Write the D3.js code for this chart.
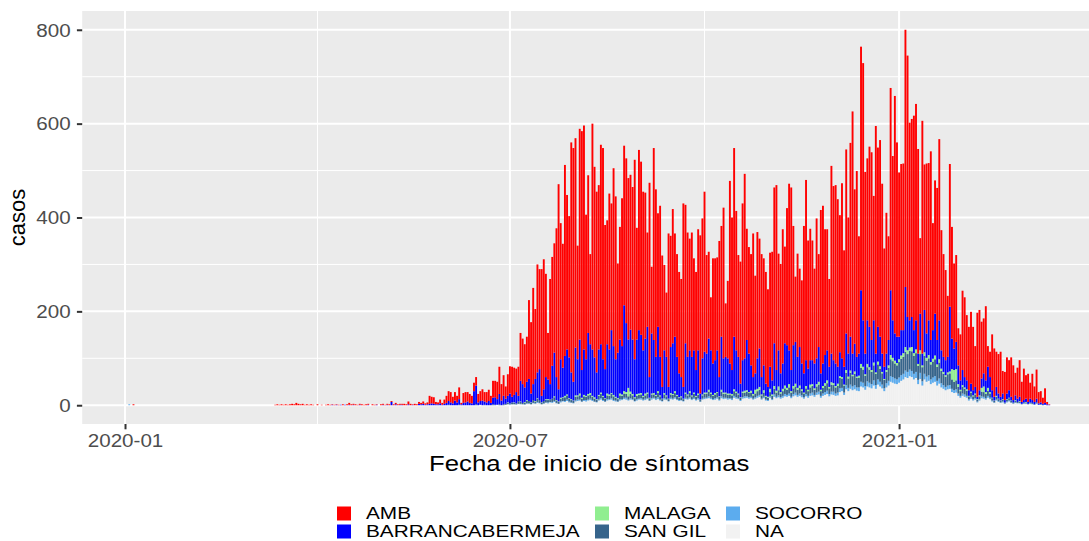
<!DOCTYPE html>
<html>
<head>
<meta charset="utf-8">
<title>Casos por fecha de inicio de síntomas</title>
<script src="https://cdn.jsdelivr.net/npm/d3@7"></script>
<style>
  body { margin: 0; background: #fff; }
  svg text { font-family: "Liberation Sans", Arial, sans-serif; }
</style>
</head>
<body>
<svg id="chart"></svg>
<script>
// series, in legend order (first one is drawn on top of the stack)
const series = ["AMB", "BARRANCABERMEJA", "MALAGA", "SAN GIL", "SOCORRO", "NA"];
const colores = ["#FF0000", "#0000FF", "#90EE90", "#36648B", "#5CACEE", "#F2F2F2"];

// daily cases, AMB and BARRANCABERMEJA start 2020-03-10
const inicioPrincipal = "2020-03-10";
const amb = [
  0,0,1,2,1,2,1,2,1,2, 3,2,5,3,2,3,1,2,1,2, 1,0,2,0,1,0,1,2,1,1, 1,1,1,0,2,0,2,4,2,2,
  2,1,2,2,1,2,2,0,2,1, 1,0,2,2,1,2,2,2,2,3, 2,2,2,3,2,6,3,1,3,2, 4,
  3,5,3,4,17,14,14,5,4,8, 4,9,15,21,22,14,18,14,25,3, 21,22,20,19,16,18,18,18,21,24,
  20,22,24,15,36,35,37,58,35,44,
  26,46,58,64,58,50,62,102,97,92,96,
  168,152,205,149,230,213,270,277,220,99, 224,232,233,317,437,290,264,407,329,301,
  490,498,446,242,449,509,477,308,336,192, 481,406,385,350,425,450,307,264,332,270,
  379,347,190,240,315,340,351,344,330,325, 425,238,384,
  369,338,311,201,414,142,409,357,242,322, 280,182,137,327,237,286,220,219,216,209,
  391,295,265,238,265,196,209,258,337,298, 341,210,185,113,224,217,198,290,236,321,
  114,165,389,325,402,297,217,260,334,393, 237,227,
  237,306,208,269,234,262,228,238,208,243, 274,332,394,206,233,286,206,292,355,389,
  254,139,220,167,177,314,384,273,280,255, 202,298,198,348,336,268,258,187,400,371,
  380,357,
  292,373,248,392,290,413,516,329,396,250, 519,548,387,345,384,400,265,485,382,419,
  362,252,300,221,431,350,506,414,350,354, 355,548,557,421,422,457,461,436,161,496,
  310,362,335,402,228,284,324,386,256,219, 192,130,304,
  238,181,185,79,98,169,170,139,135,153, 135,87,179,171,121,117,158,44,54,119,
  103,75,84,96,48,60,77,64,84,74, 48,66,78,43,67,50,60,34,56,33, 62,24,24,13,31,5,1
];
const barranca = [
  0,0,0,0,0,0,0,0,0,0, 0,0,0,0,0,0,0,0,0,0, 0,0,0,0,0,0,0,0,0,1, 0,1,0,1,0,1,0,1,0,1,
  0,0,1,0,0,0,1,0,0,0, 1,0,0,1,0,1,0,7,0,2, 0,1,1,0,0,2,0,1,0,0, 3,
  2,3,1,2,3,4,3,2,2,4, 1,3,5,8,6,4,10,6,12,2, 5,6,8,5,4,30,40,6,8,10, 7,6,9,5,14,16,12,22,10,18,
  11,14,21,12,16,24,12,44,40,31,39,
  47,19,34,47,55,66,14,25,47,42, 33,70,93,49,26,82,63,85,96,87, 57,40,102,77,115,59,97,78,130,104,
  99,85,57,97,103,78,62,105,96,134, 104,80,97,115,103,183,147,103,132,116, 81,116,135,
  124,97,117,140,44,128,113,81,137,82, 25,91,82,25,98,108,116,81,51,41, 25,105,80,87,82,90,55,92,13,77,
  87,83,109,90,67,70,89,41,113,73, 76,75,64,51,112,88,78,29,67,69, 107,82,
  54,36,35,65,82,37,53,26,21,47, 30,91,44,77,40,54,90,91,72,45, 87,89,66,82,55,41,55,45,52,51,
  53,55,74,35,48,60,64,43,61,49, 48,36,
  51,40,38,78,49,72,45,59,42,47, 157,99,44,93,86,64,90,40,74,63, 39,26,35,54,138,80,58,56,48,54,
  49,128,71,58,64,49,62,22,78,25, 90,52,74,47,61,89,52,83,39,32, 32,33,138,
  65,46,58,40,20,32,22,19,12,17, 11,14,5,11,20,28,25,45,32,16, 8,19,11,8,12,5,12,16,8,5,
  10,7,9,4,5,7,4,8,6,5, 8,3,4,2,4,2,1
];

// the smaller municipalities start 2020-05-20
const inicioOtros = "2020-05-20";
const malaga = [
  0,0,0,0,0,0,0,0,0,0, 0,0,0,0,0,0,0,0,0,0, 0,0,0,0,0,0,0,0,0,0, 0,0,0,0,0,0,0,0,0,0,
  0,1,0,0,1,0,0,1,0,1,1,
  0,1,0,1,1,0,1,0,1,2, 1,0,2,1,1,2,1,3,2,1, 2,1,3,2,4,2,3,2,3,4, 2,3,1,2,3,2,1,4,3,2,
  3,2,2,4,3,5,4,18,5,3, 2,4,3,
  3,2,4,3,1,2,3,2,4,2, 1,3,2,1,3,2,4,2,1,2, 1,3,2,4,2,3,2,3,1,2, 3,2,4,3,2,3,2,1,4,3,
  2,3,2,3,4,3,2,1,3,4, 3,2,
  4,3,8,5,6,2,5,2,2,7, 3,6,4,8,3,5,6,4,7,3, 5,6,4,5,3,2,5,3,6,4, 3,5,6,3,4,5,6,3,5,4, 3,5,
  4,3,2,6,4,5,3,5,3,4, 8,6,3,7,5,4,6,3,6,5, 3,2,4,5,9,7,6,5,6,7, 8,10,8,7,9,6,8,4,8,4,
  8,6,7,5,6,8,5,7,5,4, 3,4,4,
  22,25,24,6,3,4,3,3,1,2, 2,2,1,2,8,12,4,6,3,1, 1,2,1,1,1,0,1,1,1,0, 1,0,1,0,0,1,0,0,0,0,
  0,0,0,0,0,0,0
];
const sanGil = [
  0,0,0,0,0,0,0,0,0,0, 0,0,0,1,0,0,0,0,1,0, 0,0,0,0,0,0,2,0,0,0, 1,0,0,0,2,1,0,2,0,2,
  2,3,2,4,3,2,5,4,3,4,6,
  5,3,6,4,7,6,3,5,6,5, 4,7,8,5,4,6,7,8,9,6, 5,4,8,7,9,6,8,7,9,8, 7,6,5,8,9,7,6,8,7,9,
  8,6,5,8,7,9,8,7,9,8, 6,7,8,
  8,6,7,9,5,8,7,6,9,7, 4,8,6,4,7,8,9,7,5,6, 4,8,7,9,6,8,6,7,3,7, 8,9,10,8,7,8,9,6,10,8,
  9,7,8,7,10,9,8,5,9,8, 10,9,
  9,7,8,10,11,7,9,6,5,9, 7,12,9,11,8,10,12,11,13,9, 12,13,11,12,10,8,12,10,13,14,
  11,13,15,10,12,14,16,12,15,14, 13,14,
  22,20,15,26,20,25,22,24,20,21, 30,28,22,30,28,26,32,24,32,28, 24,18,24,28,36,34,32,30,33,35,
  36,40,38,40,42,38,40,30,40,30, 38,34,36,32,34,36,30,34,26,24, 22,24,25,
  20,18,19,14,10,14,12,11,6,9, 6,8,4,6,10,10,9,11,9,5, 3,6,4,3,4,2,4,5,3,2,
  4,2,3,1,2,2,1,2,2,1, 2,0,1,1,0,0,0
];
const socorro = [
  0,0,0,0,0,0,0,0,0,0, 0,0,0,0,0,0,0,0,0,0, 0,0,0,0,0,0,0,0,0,0, 0,0,0,0,0,0,0,0,0,0,
  0,0,1,0,0,1,0,1,0,1,1,
  1,0,1,1,2,1,0,1,1,2, 1,2,2,1,0,2,1,2,3,2, 1,1,2,3,2,1,2,3,2,3, 2,1,1,2,3,2,1,3,2,3,
  2,2,1,3,2,3,4,2,3,2, 1,3,2,
  3,2,3,2,1,3,2,3,4,2, 1,3,2,1,3,2,3,2,2,1, 1,3,2,3,2,3,2,3,1,2, 3,2,4,3,2,3,3,2,4,3,
  2,3,2,3,4,3,2,2,3,4, 3,3,
  3,2,3,4,4,2,3,2,2,3, 2,5,3,4,3,4,5,4,5,3, 5,6,4,5,4,3,5,4,5,6, 4,5,6,4,5,6,7,5,6,7, 5,6,
  8,7,5,9,7,9,8,9,7,8, 10,10,8,11,10,9,11,8,11,10, 8,6,9,10,12,12,11,10,11,12,
  12,14,13,14,13,12,13,9,13,9, 12,11,12,10,11,12,10,11,9,8, 7,8,8,
  7,6,7,5,4,5,5,4,3,4, 3,3,2,3,4,4,3,4,3,2, 1,2,2,1,2,1,2,2,1,1, 1,1,1,0,1,1,0,1,1,0,
  1,0,0,0,0,0,0
];
const sinDato = [
  0,0,0,0,0,0,0,0,0,0, 0,0,0,0,0,0,0,0,0,0, 0,0,0,0,0,0,0,0,1,0, 0,0,0,0,0,0,1,0,0,0,
  1,2,1,2,2,1,3,2,2,1,3,
  3,2,4,3,5,4,2,3,5,4, 6,5,7,4,3,6,8,7,9,6, 5,4,8,9,10,7,9,8,10,11, 9,7,6,10,12,9,7,10,11,12,
  9,8,7,10,11,13,12,10,12,11, 8,10,12,
  12,10,11,13,9,12,14,11,13,10, 8,12,11,8,13,12,14,11,9,10, 8,13,12,14,11,13,10,12,7,12,
  13,14,15,13,11,12,14,10,15,13, 14,12,13,11,16,14,13,9,14,15, 16,14,
  15,12,14,16,18,12,15,10,9,16, 11,18,15,17,14,16,19,18,20,15, 19,21,18,20,17,14,19,16,20,21,
  18,22,23,16,20,22,24,19,23,22, 20,21,
  28,30,22,34,30,35,32,34,31,30, 40,38,33,40,38,36,42,35,44,40, 36,30,38,42,50,48,46,45,48,52,
  55,60,58,62,60,55,58,45,56,42, 55,50,52,45,48,50,42,46,38,35, 32,34,35,
  28,26,27,20,16,20,18,16,10,14, 10,12,6,10,15,14,12,16,13,8, 5,10,7,5,6,3,6,8,5,3,
  5,4,4,2,3,3,2,3,2,1, 3,1,1,0,1,0,0
];

// two isolated records in January 2020
const fechasEnero = ["2020-01-03", "2020-01-05"];
const socorroEnero = [2, 0];
const ambEnero = [0, 2];

const yTicks = [0, 200, 400, 600, 800];
const xTicks = ["2020-01-01", "2020-07-01", "2021-01-01"];

(function() {
  var W = 1089, H = 541,
      panel = {left: 82.2, right: 1096.3, top: 11, bottom: 424},
      sx = 1.17,                       // horizontal text stretch seen in the original
      dia = 864e5,
      parse = d3.utcParse("%Y-%m-%d");

  // one row per day with all series
  var filas = new Map();
  function fila(fecha) {
    var k = +fecha;
    if (!filas.has(k)) {
      var r = {fecha: fecha};
      series.forEach(function(s) { r[s] = 0; });
      filas.set(k, r);
    }
    return filas.get(k);
  }
  function cargar(nombre, inicio, valores) {
    var t0 = parse(inicio);
    valores.forEach(function(v, i) { fila(new Date(+t0 + i * dia))[nombre] += v; });
  }
  cargar("AMB", inicioPrincipal, amb);
  cargar("BARRANCABERMEJA", inicioPrincipal, barranca);
  cargar("MALAGA", inicioOtros, malaga);
  cargar("SAN GIL", inicioOtros, sanGil);
  cargar("SOCORRO", inicioOtros, socorro);
  cargar("NA", inicioOtros, sinDato);
  fechasEnero.forEach(function(f, i) {
    var r = fila(parse(f));
    r.SOCORRO += socorroEnero[i];
    r.AMB += ambEnero[i];
  });
  var datos = Array.from(filas.values()).sort(function(a, b) { return a.fecha - b.fecha; });

  var apilado = d3.stack().keys(series.slice().reverse())(datos);
  var color = d3.scaleOrdinal().domain(series).range(colores);

  // ggplot style 5% expansion on both scales
  var d0 = d3.min(datos, function(d) { return +d.fecha; }),
      d1 = d3.max(datos, function(d) { return +d.fecha; }),
      rango = d1 - d0 + 0.9 * dia;
  var x = d3.scaleUtc()
    .domain([new Date(d0 - 0.45 * dia - 0.05 * rango), new Date(d1 + 0.45 * dia + 0.05 * rango)])
    .range([panel.left, panel.right]);
  var yMax = d3.max(apilado[apilado.length - 1], function(d) { return d[1]; });
  var y = d3.scaleLinear()
    .domain([-0.05 * yMax, yMax * 1.05])
    .range([panel.bottom, panel.top]);
  var anchoDia = x(new Date(d0 + dia)) - x(new Date(d0));

  var svg = d3.select('#chart')
    .attr('width', W)
    .attr('height', H);

  svg.append('rect')
    .attr('x', panel.left).attr('y', panel.top)
    .attr('width', panel.right - panel.left).attr('height', panel.bottom - panel.top)
    .attr('fill', '#EBEBEB');

  // grid
  var grid = svg.append('g');
  var yMinor = d3.range(100, 800, 200);
  grid.selectAll('.ymin').data(yMinor).enter().append('line')
    .attr('x1', panel.left).attr('x2', panel.right)
    .attr('y1', function(d) { return y(d); }).attr('y2', function(d) { return y(d); })
    .attr('stroke', '#fff').attr('stroke-width', 1);
  var majX = ["2019-07-01"].concat(xTicks, ["2021-07-01"]).map(parse);
  var minX = d3.pairs(majX).map(function(p) { return new Date((+p[0] + +p[1]) / 2); });
  grid.selectAll('.xmin').data(minX).enter().append('line')
    .attr('x1', function(d) { return x(d); }).attr('x2', function(d) { return x(d); })
    .attr('y1', panel.top).attr('y2', panel.bottom)
    .attr('stroke', '#fff').attr('stroke-width', 1);
  grid.selectAll('.ymaj').data(yTicks).enter().append('line')
    .attr('x1', panel.left).attr('x2', panel.right)
    .attr('y1', function(d) { return y(d); }).attr('y2', function(d) { return y(d); })
    .attr('stroke', '#fff').attr('stroke-width', 2);
  grid.selectAll('.xmaj').data(xTicks.map(parse)).enter().append('line')
    .attr('x1', function(d) { return x(d); }).attr('x2', function(d) { return x(d); })
    .attr('y1', panel.top).attr('y2', panel.bottom)
    .attr('stroke', '#fff').attr('stroke-width', 2);

  // stacked bars
  svg.append('g').selectAll('g')
    .data(apilado)
    .enter()
    .append('g')
    .attr('fill', function(d) { return color(d.key); })
    .selectAll('rect')
    .data(function(d) { return d.filter(function(p) { return p[1] > p[0]; }); })
    .enter()
    .append('rect')
    .attr('x', function(d) { return x(d.data.fecha) - 0.45 * anchoDia; })
    .attr('width', 0.9 * anchoDia)
    .attr('y', function(d) { return y(d[1]); })
    .attr('height', function(d) { return y(d[0]) - y(d[1]); });

  // axes
  var ejeY = svg.append('g')
    .attr('transform', 'translate(' + panel.left + ',0)')
    .call(d3.axisLeft(y).tickValues(yTicks).tickSize(5.3));
  var ejeX = svg.append('g')
    .attr('transform', 'translate(0,' + panel.bottom + ')')
    .call(d3.axisBottom(x).tickValues(xTicks.map(parse)).tickSize(5.3).tickFormat(d3.utcFormat('%Y-%m')));
  [ejeY, ejeX].forEach(function(g) {
    g.select('.domain').remove();
    g.selectAll('.tick line').attr('stroke', '#333').attr('stroke-width', 2);
    g.selectAll('.tick text')
      .attr('fill', '#4D4D4D')
      .attr('font-size', 17.6)
      .attr('x', 0).attr('y', 0).attr('dy', null);
  });
  ejeY.selectAll('.tick text')
    .attr('text-anchor', 'end')
    .attr('transform', 'translate(-11.5,6.3) scale(' + sx + ',1)');
  ejeX.selectAll('.tick text')
    .attr('text-anchor', 'middle')
    .attr('transform', 'translate(0,23) scale(' + sx + ',1)');

  svg.append('text')
    .text('Fecha de inicio de síntomas')
    .attr('text-anchor', 'middle')
    .attr('font-size', 22)
    .attr('fill', '#000')
    .attr('transform', 'translate(' + ((panel.left + panel.right) / 2) + ',471) scale(' + sx + ',1)');
  // rotated title: its length runs vertically, so no horizontal stretch
  svg.append('text')
    .text('casos')
    .attr('text-anchor', 'middle')
    .attr('font-size', 22)
    .attr('fill', '#000')
    .attr('transform', 'translate(25,' + ((panel.top + panel.bottom) / 2) + ') rotate(-90)');

  // legend, 3 columns x 2 rows filled by column
  var colX = [337, 595, 726], filaY = [506.5, 524.5];
  var leyenda = svg.append('g').selectAll('g')
    .data(series)
    .enter()
    .append('g')
    .attr('transform', function(d, i) {
      return 'translate(' + colX[Math.floor(i / 2)] + ',' + filaY[i % 2] + ')';
    });
  leyenda.append('rect')
    .attr('width', 14).attr('height', 14)
    .attr('fill', function(d) { return color(d); });
  leyenda.append('text')
    .text(function(d) { return d; })
    .attr('font-size', 16)
    .attr('fill', '#000')
    .attr('transform', 'translate(29,12.8) scale(1.3,1)');
})();
</script>
</body>
</html>
